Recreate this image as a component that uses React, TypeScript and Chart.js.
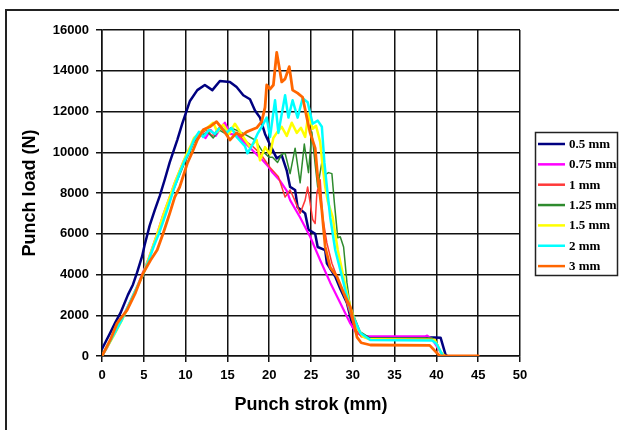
import React, { useEffect, useRef } from "react";
import { Chart, registerables } from "chart.js";

Chart.register(...registerables);

const seriesLabels = ["0.5 mm", "0.75 mm", "1 mm", "1.25 mm", "1.5 mm", "2 mm", "3 mm"];
const seriesColors = ["#000080", "#FF00FF", "#FF3838", "#2E8B2E", "#FFFF00", "#00FFFF", "#FF6600"];
const seriesWidths = [2.5, 2.2, 1.5, 1.5, 2.5, 2.5, 2.8];

const xTicks = [0, 5, 10, 15, 20, 25, 30, 35, 40, 45, 50];
const yTicks = [0, 2000, 4000, 6000, 8000, 10000, 12000, 14000, 16000];

const stroke05 = [0, 0.5, 1.0, 1.6, 2.2, 3.1, 3.7, 4.2, 4.8, 5.1, 5.7, 6.3, 6.9, 7.5, 8.1, 9.0, 9.6, 10.5, 11.4, 12.3, 13.2, 14.1, 15.3, 16.1, 16.9, 17.7, 18.3, 18.9, 19.5, 20.0, 20.9, 21.5, 22.1, 22.5, 23.1, 23.4, 24.3, 24.7, 25.5, 25.8, 26.7, 26.9, 27.9, 28.5, 29.3, 30.0, 30.5, 31.2, 32.0, 35.0, 39.8, 40.5, 41.1, 41.3];
const load05 = [350, 750, 1150, 1650, 2100, 3000, 3500, 4100, 4900, 5450, 6400, 7150, 7850, 8650, 9500, 10600, 11400, 12500, 13050, 13300, 13050, 13500, 13450, 13200, 12800, 12600, 12050, 11700, 10900, 10450, 9700, 9850, 9100, 8300, 8150, 7300, 7000, 6200, 6000, 5350, 5200, 4550, 3900, 3300, 2600, 1430, 1150, 1000, 920, 910, 910, 900, 60, 0];

const stroke075 = [0, 0.6, 1.2, 2.0, 2.6, 3.4, 4.2, 4.9, 5.6, 6.1, 6.6, 7.3, 8.1, 8.7, 9.3, 9.8, 10.3, 11.0, 11.7, 12.4, 13.0, 13.6, 14.2, 14.7, 15.3, 16.0, 17.0, 18.0, 19.0, 19.9, 20.4, 21.3, 22.1, 22.5, 23.7, 24.9, 26.1, 27.3, 28.5, 29.7, 30.4, 31.2, 32.0, 38.6, 38.9, 39.5, 40.3, 40.8];
const load075 = [0, 400, 900, 1500, 2000, 2700, 3400, 4100, 4800, 5400, 6000, 6900, 7800, 8500, 9100, 9600, 10000, 10600, 10900, 10700, 11100, 10800, 11200, 11450, 10900, 10850, 10500, 10100, 9700, 9300, 9000, 8600, 8100, 7650, 6800, 5850, 4700, 3600, 2600, 1600, 1150, 980, 960, 960, 1000, 830, 300, 0];

const stroke1 = [0, 0.7, 1.5, 2.4, 3.2, 4.0, 4.9, 5.7, 6.4, 7.0, 7.7, 8.4, 9.1, 9.7, 10.4, 11.0, 11.8, 12.5, 13.2, 14.0, 14.8, 15.5, 16.2, 17.0, 18.0, 19.0, 20.1, 21.1, 21.9, 22.5, 23.0, 23.7, 24.3, 24.6, 25.2, 25.5, 25.7, 26.1, 26.4, 26.9, 27.5, 28.1, 28.8, 29.5, 30.2, 31.0, 32.0, 39.0, 39.8, 40.5, 41.0];
const load1 = [0, 500, 1100, 1800, 2500, 3200, 4000, 4800, 5700, 6400, 7200, 8000, 8800, 9400, 10000, 10500, 10900, 11100, 10800, 11200, 11000, 11100, 10900, 10600, 10300, 9900, 9250, 8800, 7800, 8150, 7700, 7000, 7650, 8300, 6700, 6500, 8000, 8650, 6800, 5550, 4550, 3900, 3200, 2300, 1400, 950, 860, 850, 800, 200, 0];

const stroke125 = [0, 0.8, 1.6, 2.5, 3.3, 4.1, 5.0, 5.8, 6.5, 7.2, 7.9, 8.6, 9.3, 9.9, 10.5, 11.0, 11.8, 12.6, 13.3, 14.0, 14.8, 15.4, 16.0, 17.0, 18.3, 19.1, 20.0, 20.4, 21.0, 21.5, 21.9, 22.5, 23.1, 23.7, 24.2, 24.7, 25.1, 25.5, 25.8, 26.3, 26.7, 27.1, 27.5, 27.8, 28.2, 28.5, 28.9, 29.3, 29.7, 30.9, 32.0, 39.5, 40.0, 40.7];
const load125 = [0, 600, 1200, 1900, 2600, 3300, 4100, 5000, 5800, 6600, 7400, 8200, 8900, 9500, 10000, 10500, 10800, 11000, 10700, 11100, 10900, 11200, 11100, 10900, 10600, 10100, 9750, 9750, 9500, 9900, 9950, 8950, 10200, 8500, 10400, 9000, 11000, 9400, 8300, 9500, 8900, 9000, 8950, 7500, 5800, 5850, 5350, 3600, 2400, 1180, 900, 880, 700, 0];

const stroke15 = [0, 0.7, 1.4, 2.3, 3.1, 4.0, 4.9, 5.6, 6.2, 6.7, 7.4, 8.1, 8.8, 9.5, 10.1, 10.6, 11.0, 11.8, 12.6, 13.3, 13.8, 14.5, 15.2, 15.9, 16.9, 17.7, 18.5, 18.9, 19.5, 20.1, 20.5, 20.9, 21.5, 22.1, 22.7, 23.3, 23.8, 24.3, 24.7, 25.2, 25.6, 26.1, 26.4, 26.7, 27.0, 27.6, 28.2, 28.8, 29.3, 29.7, 30.5, 31.2, 32.0, 39.0, 39.8, 40.5, 41.0];
const load15 = [0, 500, 1000, 1700, 2400, 3200, 4000, 4800, 5500, 6100, 7000, 7800, 8600, 9300, 9900, 10300, 10700, 11000, 11200, 11450, 11000, 11350, 10900, 11400, 10750, 10250, 10600, 9600, 10250, 9900, 10700, 10950, 11250, 10800, 11450, 10950, 11200, 10750, 11900, 11150, 11300, 10500, 9300, 8300, 7600, 6800, 5200, 4050, 3100, 2400, 1400, 950, 820, 800, 780, 200, 0];

const stroke2 = [0, 0.8, 1.6, 2.4, 3.2, 4.1, 4.9, 5.6, 6.2, 6.8, 7.4, 7.9, 8.6, 9.3, 9.9, 10.4, 11.0, 11.6, 12.1, 12.8, 13.5, 14.2, 14.9, 15.5, 16.1, 17.1, 17.4, 18.1, 18.6, 19.1, 19.7, 20.1, 20.7, 21.1, 21.9, 22.3, 22.8, 23.4, 24.0, 24.6, 25.2, 25.8, 26.3, 26.6, 26.9, 27.3, 27.9, 28.7, 29.7, 30.9, 32.1, 39.5, 40.0, 40.8];
const load2 = [0, 600, 1200, 1800, 2500, 3300, 4000, 4700, 5400, 6000, 6700, 7300, 8200, 9000, 9600, 10000, 10600, 11000, 10750, 11100, 10900, 11250, 10950, 11200, 10750, 10300, 9950, 10450, 10900, 11250, 11700, 10750, 12550, 10950, 12800, 11700, 12550, 11700, 12650, 12450, 11400, 11550, 11250, 9500, 8300, 6800, 5200, 3900, 2250, 1130, 790, 760, 600, 0];

const stroke3 = [0, 1.0, 1.8, 3.0, 4.0, 4.9, 5.8, 6.6, 7.3, 8.1, 8.7, 9.3, 10.2, 10.8, 11.4, 12.1, 12.9, 13.7, 14.5, 15.3, 16.1, 16.7, 17.3, 18.5, 19.1, 19.5, 19.7, 20.1, 20.5, 20.9, 21.5, 21.9, 22.4, 22.8, 23.4, 24.0, 24.5, 24.9, 25.5, 25.8, 26.3, 26.7, 27.3, 28.1, 28.9, 29.7, 30.5, 31.0, 32.1, 39.2, 40.4, 45.0];
const load3 = [0, 800, 1600, 2250, 3100, 4050, 4700, 5200, 6000, 7000, 7800, 8300, 9450, 10000, 10600, 11100, 11250, 11500, 11100, 10600, 10950, 10800, 11000, 11200, 11500, 12200, 13300, 13100, 13300, 14900, 13450, 13600, 14200, 13050, 12900, 12700, 11700, 10950, 10200, 8800, 7150, 5350, 4350, 3900, 3100, 2400, 930, 650, 540, 520, 0, 0];

const strokes = [stroke05, stroke075, stroke1, stroke125, stroke15, stroke2, stroke3];
const loads = [load05, load075, load1, load125, load15, load2, load3];

const legendPlugin = {
  id: "boxLegend",
  afterDraw(chart: any) {
    const ctx = chart.ctx;
    ctx.save();
    ctx.strokeStyle = "#222";
    ctx.lineWidth = 1.5;
    ctx.strokeRect(535.5, 132.5, 82, 143);
    ctx.font = 'bold 13px "Liberation Serif"';
    ctx.textBaseline = "middle";
    ctx.textAlign = "left";
    seriesLabels.forEach((lab, i) => {
      const y = 144 + i * 20.35;
      ctx.strokeStyle = seriesColors[i];
      ctx.lineWidth = 2.5;
      ctx.beginPath();
      ctx.moveTo(538, y);
      ctx.lineTo(565, y);
      ctx.stroke();
      ctx.fillStyle = "#000";
      ctx.fillText(lab, 569, y + 0.5);
    });
    ctx.restore();
  },
};

export default function App() {
  const ref = useRef<HTMLCanvasElement | null>(null);
  useEffect(() => {
    if (!ref.current) return;
    const datasets = seriesLabels.map((label, i) => ({
      label,
      data: strokes[i].map((x, j) => ({ x, y: loads[i][j] })),
      borderColor: seriesColors[i],
      backgroundColor: seriesColors[i],
      borderWidth: seriesWidths[i],
      pointRadius: 0,
      tension: 0,
      fill: false,
      borderJoinStyle: "round" as const,
      borderCapStyle: "round" as const,
      order: 7 - i,
    }));
    const tickFont = { family: '"Liberation Sans", Arial, sans-serif', size: 13, weight: "bold" as const };
    const titleFont = { family: '"Liberation Sans", Arial, sans-serif', size: 18, weight: "bold" as const };
    const chart = new Chart(ref.current, {
      type: "line",
      data: { datasets },
      plugins: [legendPlugin],
      options: {
        responsive: false,
        animation: false,
        layout: { padding: { left: 0, right: 99, top: 30, bottom: 0 } },
        plugins: { legend: { display: false }, tooltip: { enabled: false } },
        scales: {
          x: {
            type: "linear",
            min: 0,
            max: 50,
            afterBuildTicks: (s: any) => { s.ticks = xTicks.map((v) => ({ value: v })); },
            afterFit: (s: any) => { s.height = 74; },
            ticks: { color: "#000", font: tickFont, padding: 6, maxRotation: 0, autoSkip: false, callback: (v: any) => String(v) },
            grid: { color: "#111", lineWidth: 1.5, tickLength: 6 },
            border: { color: "#111", width: 1.5 },
            title: { display: true, text: "Punch strok (mm)", color: "#000", font: titleFont, padding: { top: 0, bottom: 14 } },
          },
          y: {
            type: "linear",
            min: 0,
            max: 16000,
            afterBuildTicks: (s: any) => { s.ticks = yTicks.map((v) => ({ value: v })); },
            afterFit: (s: any) => { s.width = 102; },
            ticks: { color: "#000", font: tickFont, padding: 7, autoSkip: false, callback: (v: any) => String(v) },
            grid: { color: "#111", lineWidth: 1.5, tickLength: 6 },
            border: { color: "#111", width: 1.5 },
            title: { display: true, text: "Punch load (N)", color: "#000", font: titleFont, padding: { top: 19, bottom: 0 } },
          },
        },
      },
    });
    return () => chart.destroy();
  }, []);
  return (
    <div style={{ position: "fixed", left: 0, top: 0, width: 619, height: 430, background: "#fff", overflow: "hidden" }}>
      <div style={{ position: "absolute", left: 5, top: 9, width: 640, height: 460, borderLeft: "2px solid #222", borderTop: "2px solid #222" }} />
      <canvas ref={ref} width={619} height={430} style={{ position: "absolute", left: 0, top: 0 }} />
    </div>
  );
}
